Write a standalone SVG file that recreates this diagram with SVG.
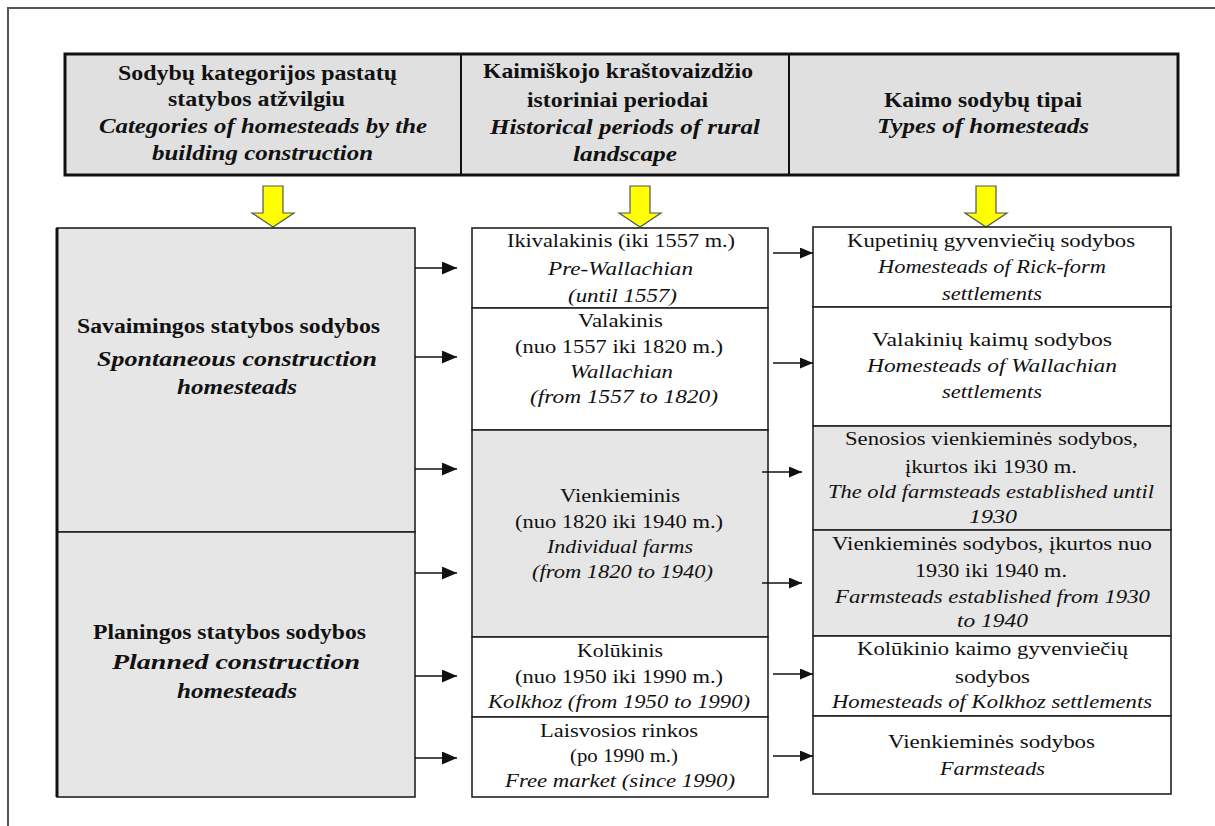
<svg xmlns="http://www.w3.org/2000/svg" width="1215" height="826" viewBox="0 0 1215 826">
<defs>
<style>
.hb{font-size:21px;font-weight:bold}
.hi{font-size:21px;font-weight:bold;font-style:italic}
.n{font-size:18px}
.i{font-size:18px;font-style:italic}
.box{stroke:#222;stroke-width:1.6}
.wf{fill:#ffffff}
.gf{fill:#e6e6e6}
.conn line{stroke:#111;stroke-width:1.5}
.ya{fill:#ffff00;stroke:#555;stroke-width:1.2}
</style>
<marker id="ah" viewBox="0 0 15 13" refX="15" refY="6.5" markerWidth="15" markerHeight="13" markerUnits="userSpaceOnUse" orient="auto"><path d="M0,0 L15,6.5 L0,13 z" fill="#111"/></marker>
<marker id="ah2" viewBox="0 0 13 11" refX="13" refY="5.5" markerWidth="13" markerHeight="11" markerUnits="userSpaceOnUse" orient="auto"><path d="M0,0 L13,5.5 L0,11 z" fill="#111"/></marker>
</defs>
<rect width="1215" height="826" fill="#ffffff"/>
<path d="M8,826 V8 H1215" fill="none" stroke="#555" stroke-width="2"/>

<g style="font-family:'Liberation Serif';fill:#111;text-anchor:middle">
<g id="header">
<rect x="65" y="54" width="1113" height="121" fill="#e0e0e0" stroke="#111" stroke-width="3"/>
<line x1="461" y1="54" x2="461" y2="175" stroke="#111" stroke-width="2"/>
<line x1="789" y1="54" x2="789" y2="175" stroke="#111" stroke-width="2"/>
<text class="hb" x="257.5" y="80" textLength="279" lengthAdjust="spacingAndGlyphs">Sodybų kategorijos pastatų</text>
<text class="hb" x="256.5" y="106" textLength="177" lengthAdjust="spacingAndGlyphs">statybos atžvilgiu</text>
<text class="hi" x="263" y="133" textLength="328" lengthAdjust="spacingAndGlyphs">Categories of homesteads by the</text>
<text class="hi" x="262.5" y="160" textLength="221" lengthAdjust="spacingAndGlyphs">building construction</text>
<text class="hb" x="618" y="78" textLength="270" lengthAdjust="spacingAndGlyphs">Kaimiškojo kraštovaizdžio</text>
<text class="hb" x="617.5" y="107" textLength="181" lengthAdjust="spacingAndGlyphs">istoriniai periodai</text>
<text class="hi" x="625" y="134" textLength="270" lengthAdjust="spacingAndGlyphs">Historical periods of rural</text>
<text class="hi" x="625" y="161" textLength="104" lengthAdjust="spacingAndGlyphs">landscape</text>
<text class="hb" x="983" y="107" textLength="198" lengthAdjust="spacingAndGlyphs">Kaimo sodybų tipai</text>
<text class="hi" x="983" y="133" textLength="212" lengthAdjust="spacingAndGlyphs">Types of homesteads</text>
</g>

<g id="down-arrows">
<path class="ya" d="M263,186 H283 V213 H294 L273,227 L252,213 H263 Z"/>
<path class="ya" d="M630,186 H650 V213 H661 L640,227 L619,213 H630 Z"/>
<path class="ya" d="M976,186 H996 V213 H1007 L986,227 L965,213 H976 Z"/>
</g>

<g id="left-spontaneous">
<rect class="box gf" x="57" y="228" width="358" height="304"/>
<text class="hb" x="228.5" y="333" textLength="303" lengthAdjust="spacingAndGlyphs" style="font-size:20px">Savaimingos statybos sodybos</text>
<text class="hi" x="237" y="366" textLength="280" lengthAdjust="spacingAndGlyphs">Spontaneous construction</text>
<text class="hi" x="237" y="394" textLength="120" lengthAdjust="spacingAndGlyphs">homesteads</text>
</g>
<g id="left-planned">
<rect class="box gf" x="57" y="532" width="358" height="265"/>
<text class="hb" x="229.5" y="639" textLength="273" lengthAdjust="spacingAndGlyphs" style="font-size:20px">Planingos statybos sodybos</text>
<text class="hi" x="236" y="669" textLength="248" lengthAdjust="spacingAndGlyphs">Planned construction</text>
<text class="hi" x="237" y="698" textLength="120" lengthAdjust="spacingAndGlyphs">homesteads</text>
</g>
<line x1="57" y1="228" x2="57" y2="797" stroke="#111" stroke-width="3"/>

<g id="period-prewallachian">
<rect class="box wf" x="472" y="228" width="296" height="80"/>
<text class="n" x="621" y="247" textLength="228" lengthAdjust="spacingAndGlyphs">Ikivalakinis (iki 1557 m.)</text>
<text class="i" x="620.5" y="275" textLength="145" lengthAdjust="spacingAndGlyphs">Pre-Wallachian</text>
<text class="i" x="622.5" y="302" textLength="109" lengthAdjust="spacingAndGlyphs">(until 1557)</text>
</g>
<g id="period-wallachian">
<rect class="box wf" x="472" y="308" width="296" height="122"/>
<text class="n" x="620.5" y="327" textLength="85" lengthAdjust="spacingAndGlyphs">Valakinis</text>
<text class="n" x="619" y="353" textLength="208" lengthAdjust="spacingAndGlyphs">(nuo 1557 iki 1820 m.)</text>
<text class="i" x="621.5" y="378" textLength="103" lengthAdjust="spacingAndGlyphs">Wallachian</text>
<text class="i" x="624" y="403" textLength="188" lengthAdjust="spacingAndGlyphs">(from 1557 to 1820)</text>
</g>
<g id="period-individual">
<rect class="box gf" x="472" y="430" width="296" height="207"/>
<text class="n" x="620" y="502" textLength="120" lengthAdjust="spacingAndGlyphs">Vienkieminis</text>
<text class="n" x="619" y="528" textLength="208" lengthAdjust="spacingAndGlyphs">(nuo 1820 iki 1940 m.)</text>
<text class="i" x="620" y="553" textLength="146" lengthAdjust="spacingAndGlyphs">Individual farms</text>
<text class="i" x="622.5" y="578" textLength="181" lengthAdjust="spacingAndGlyphs">(from 1820 to 1940)</text>
</g>
<g id="period-kolkhoz">
<rect class="box wf" x="472" y="637" width="296" height="80"/>
<text class="n" x="620" y="657" textLength="86" lengthAdjust="spacingAndGlyphs">Kolūkinis</text>
<text class="n" x="619" y="683" textLength="208" lengthAdjust="spacingAndGlyphs">(nuo 1950 iki 1990 m.)</text>
<text class="i" x="619" y="708" textLength="262" lengthAdjust="spacingAndGlyphs">Kolkhoz (from 1950 to 1990)</text>
</g>
<g id="period-freemarket">
<rect class="box wf" x="472" y="717" width="296" height="80"/>
<text class="n" x="619" y="737" textLength="158" lengthAdjust="spacingAndGlyphs">Laisvosios rinkos</text>
<text class="n" x="624" y="762" textLength="108" lengthAdjust="spacingAndGlyphs">(po 1990 m.)</text>
<text class="i" x="620" y="787" textLength="230" lengthAdjust="spacingAndGlyphs">Free market (since 1990)</text>
</g>

<g id="type-rick">
<rect class="box wf" x="813" y="227" width="358" height="80"/>
<text class="n" x="991" y="247" textLength="288" lengthAdjust="spacingAndGlyphs">Kupetinių gyvenviečių sodybos</text>
<text class="i" x="992" y="273" textLength="228" lengthAdjust="spacingAndGlyphs">Homesteads of Rick-form</text>
<text class="i" x="992" y="300" textLength="100" lengthAdjust="spacingAndGlyphs">settlements</text>
</g>
<g id="type-wallachian">
<rect class="box wf" x="813" y="307" width="358" height="119"/>
<text class="n" x="992" y="346" textLength="240" lengthAdjust="spacingAndGlyphs">Valakinių kaimų sodybos</text>
<text class="i" x="992" y="372" textLength="250" lengthAdjust="spacingAndGlyphs">Homesteads of Wallachian</text>
<text class="i" x="992" y="398" textLength="100" lengthAdjust="spacingAndGlyphs">settlements</text>
</g>
<g id="type-old-farmsteads">
<rect class="box gf" x="813" y="426" width="358" height="104"/>
<text class="n" x="991.5" y="445" textLength="293" lengthAdjust="spacingAndGlyphs">Senosios vienkieminės sodybos,</text>
<text class="n" x="991" y="473" textLength="172" lengthAdjust="spacingAndGlyphs">įkurtos iki 1930 m.</text>
<text class="i" x="991" y="498" textLength="326" lengthAdjust="spacingAndGlyphs">The old farmsteads established until</text>
<text class="i" x="993" y="523" textLength="48" lengthAdjust="spacingAndGlyphs">1930</text>
</g>
<g id="type-farmsteads-1930">
<rect class="box gf" x="813" y="530" width="358" height="106"/>
<text class="n" x="992" y="550" textLength="320" lengthAdjust="spacingAndGlyphs">Vienkieminės sodybos, įkurtos nuo</text>
<text class="n" x="991" y="577" textLength="152" lengthAdjust="spacingAndGlyphs">1930 iki 1940 m.</text>
<text class="i" x="992.5" y="603" textLength="315" lengthAdjust="spacingAndGlyphs">Farmsteads established from 1930</text>
<text class="i" x="992.5" y="627" textLength="71" lengthAdjust="spacingAndGlyphs">to 1940</text>
</g>
<g id="type-kolkhoz">
<rect class="box wf" x="813" y="636" width="358" height="80"/>
<text class="n" x="992.5" y="655" textLength="271" lengthAdjust="spacingAndGlyphs">Kolūkinio kaimo gyvenviečių</text>
<text class="n" x="992.5" y="683" textLength="75" lengthAdjust="spacingAndGlyphs">sodybos</text>
<text class="i" x="992" y="708" textLength="320" lengthAdjust="spacingAndGlyphs">Homesteads of Kolkhoz settlements</text>
</g>
<g id="type-farmsteads">
<rect class="box wf" x="813" y="716" width="358" height="78"/>
<text class="n" x="991.5" y="748" textLength="207" lengthAdjust="spacingAndGlyphs">Vienkieminės sodybos</text>
<text class="i" x="992.5" y="775" textLength="105" lengthAdjust="spacingAndGlyphs">Farmsteads</text>
</g>
</g>

<g id="connectors" class="conn">
<line x1="415" y1="268" x2="457" y2="268" marker-end="url(#ah)"/>
<line x1="415" y1="357" x2="457" y2="357" marker-end="url(#ah)"/>
<line x1="415" y1="469" x2="457" y2="469" marker-end="url(#ah)"/>
<line x1="415" y1="573" x2="457" y2="573" marker-end="url(#ah)"/>
<line x1="415" y1="676" x2="457" y2="676" marker-end="url(#ah)"/>
<line x1="415" y1="758" x2="457" y2="758" marker-end="url(#ah)"/>
<line x1="773" y1="253" x2="813" y2="253" marker-end="url(#ah2)"/>
<line x1="773" y1="363" x2="813" y2="363" marker-end="url(#ah2)"/>
<line x1="762" y1="472" x2="802" y2="472" marker-end="url(#ah2)"/>
<line x1="762" y1="583" x2="802" y2="583" marker-end="url(#ah2)"/>
<line x1="773" y1="674" x2="813" y2="674" marker-end="url(#ah2)"/>
<line x1="773" y1="756" x2="813" y2="756" marker-end="url(#ah2)"/>
</g>
</svg>
